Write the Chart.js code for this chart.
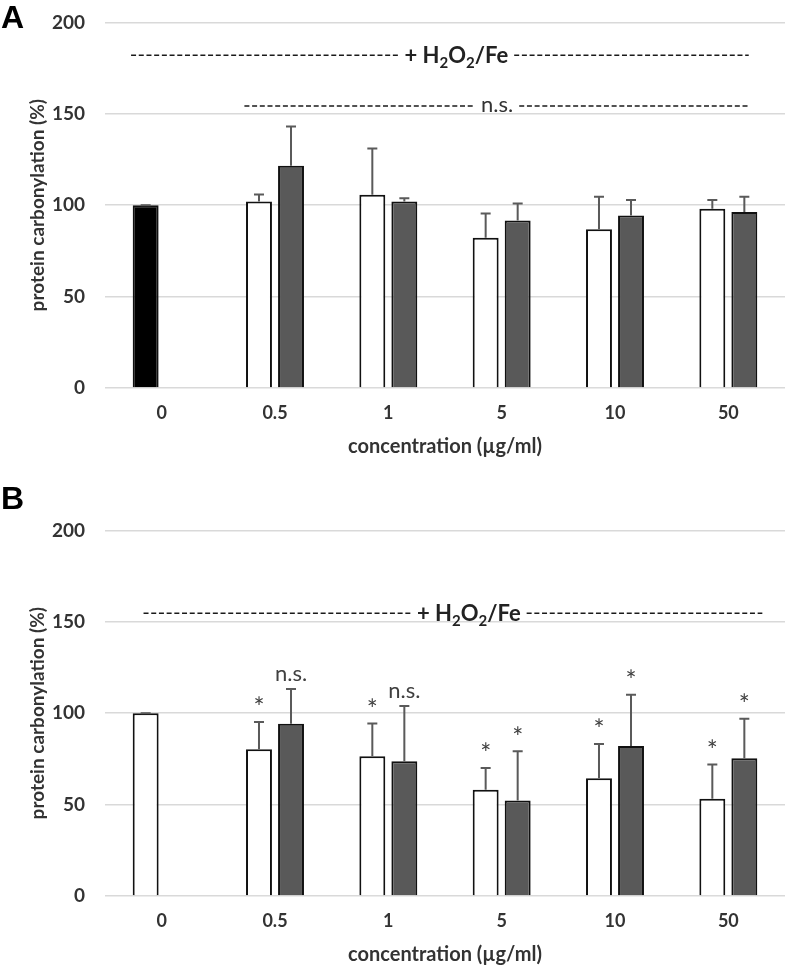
<!DOCTYPE html>
<html>
<head>
<meta charset="utf-8">
<title>protein carbonylation</title>
<script src="https://cdn.jsdelivr.net/npm/chart.js@4.4.1/dist/chart.umd.min.js"></script>
<style>
  html, body { margin: 0; padding: 0; background: #fff; overflow: hidden; }
  #wrap { position: relative; width: 787px; height: 968px; overflow: hidden; }
  .panel { position: absolute; left: 0; width: 787px; height: 479px; }
  .tag { position: absolute; left: 1px; font: bold 32px "Liberation Sans", Arial, sans-serif; color: #000; }
</style>
</head>
<body>
<div id="wrap">
  <div class="panel" style="top:-9px"><canvas id="chartA" width="787" height="479"></canvas></div>
  <div class="panel" style="top:499px"><canvas id="chartB" width="787" height="479"></canvas></div>
  <div class="tag" style="top:-1px">A</div>
  <div class="tag" style="top:480px">B</div>
</div>

<script>
// categories and ticks
const categories = ['0', '0.5', '1', '5', '10', '50'];
const yTicks = [0, 50, 100, 150, 200];

// panel A
const whiteA = [100, 102, 105.7, 82.2, 86.8, 98];
const whiteSdA = [0, 3.9, 25.3, 13.2, 17.8, 4.8];
const grayA = [null, 121.6, 102, 91.6, 94.3, 96.3];
const graySdA = [null, 21.4, 1.8, 9.3, 8.5, 8.3];

// panel B
const whiteB = [100, 80.3, 76.5, 58.1, 64.4, 53.2];
const whiteSdB = [0, 14.9, 17.8, 11.9, 18.8, 18.7];
const grayB = [null, 94.2, 73.7, 52.3, 82.1, 75.4];
const graySdB = [null, 19, 30.2, 26.9, 28, 21.5];
const sigWhiteB = ['', '*', '*', '*', '*', '*'];
const sigGrayB = ['', 'n.s.', 'n.s.', '*', '*', '*'];

// dashed annotation lines: y in data units, x in category index units
const linesA = [
  { text: 'h2o2', y: 182, from: -0.27, to: 5.18, at: 2.6 },
  { text: 'n.s.', y: 154.3, from: 0.73, to: 5.19, at: 2.96 }
];
const linesB = [
  { text: 'h2o2', y: 154.7, from: -0.16, to: 5.3, at: 2.71 }
];

const FONT = 'Lato, "Open Sans", sans-serif';
const TEXT = '#333';

// error bars + significance marks
const errorBars = {
  id: 'errorBars',
  afterDatasetsDraw(chart) {
    const ctx = chart.ctx;
    const y = chart.scales.y;
    ctx.save();
    chart.data.datasets.forEach((ds, i) => {
      const meta = chart.getDatasetMeta(i);
      meta.data.forEach((bar, j) => {
        const v = ds.data[j];
        const sd = ds.sd[j];
        if (v == null || sd == null) return;
        const top = y.getPixelForValue(v + sd);
        ctx.strokeStyle = '#5a5a5a';
        ctx.lineWidth = 2;
        ctx.setLineDash([]);
        ctx.beginPath();
        ctx.moveTo(bar.x, bar.y);
        ctx.lineTo(bar.x, top);
        ctx.moveTo(bar.x - 5, top);
        ctx.lineTo(bar.x + 5, top);
        ctx.stroke();

        const mark = ds.marks ? ds.marks[j] : '';
        if (mark) {
          ctx.fillStyle = '#404040';
          ctx.textAlign = 'center';
          if (mark === '*') {
            ctx.font = '26px ' + FONT;
            ctx.textBaseline = 'middle';
            ctx.fillText(mark, bar.x, top - 13);
          } else {
            ctx.font = '22px ' + FONT;
            ctx.textBaseline = 'alphabetic';
            ctx.fillText(mark, bar.x, top - 8);
          }
        }
      });
    });
    ctx.restore();
  }
};

// draws "+ H2O2/Fe" with subscripts, returns width
function drawH2O2(ctx, cx, baseY, measureOnly) {
  const parts = [['+ H', 0], ['2', 1], ['O', 0], ['2', 1], ['/Fe', 0]];
  let w = 0;
  parts.forEach(p => {
    ctx.font = (p[1] ? 'bold 15px ' : 'bold 22px ') + FONT;
    w += ctx.measureText(p[0]).width;
  });
  if (measureOnly) return w;
  let x = cx - w / 2;
  ctx.fillStyle = '#222';
  ctx.textAlign = 'left';
  ctx.textBaseline = 'alphabetic';
  parts.forEach(p => {
    ctx.font = (p[1] ? 'bold 15px ' : 'bold 22px ') + FONT;
    ctx.fillText(p[0], x, baseY + (p[1] ? 5 : 0));
    x += ctx.measureText(p[0]).width;
  });
  return w;
}

const dashedLines = {
  id: 'dashedLines',
  afterDraw(chart, args, opts) {
    const ctx = chart.ctx;
    const xs = chart.scales.x, ys = chart.scales.y;
    ctx.save();
    opts.lines.forEach(l => {
      const yy = ys.getPixelForValue(l.y);
      const x0 = xs.getPixelForValue(l.from);
      const x1 = xs.getPixelForValue(l.to);
      const cx = xs.getPixelForValue(l.at);
      let w;
      if (l.text === 'h2o2') {
        w = drawH2O2(ctx, cx, yy, true);
        drawH2O2(ctx, cx, yy + 8, false);
      } else {
        ctx.font = '22px ' + FONT;
        w = ctx.measureText(l.text).width;
        ctx.fillStyle = '#333';
        ctx.textAlign = 'center';
        ctx.textBaseline = 'alphabetic';
        ctx.fillText(l.text, cx, yy + 6);
      }
      ctx.strokeStyle = '#1a1a1a';
      ctx.lineWidth = 1.6;
      ctx.setLineDash([5, 2.7]);
      ctx.beginPath();
      ctx.moveTo(x0, yy);
      ctx.lineTo(cx - w / 2 - 6, yy);
      ctx.moveTo(cx + w / 2 + 6, yy);
      ctx.lineTo(x1, yy);
      ctx.stroke();
    });
    ctx.restore();
  }
};

function makePanel(id, white, whiteSd, gray, graySd, firstColor, marksWhite, marksGray, lines) {
  new Chart(document.getElementById(id), {
    type: 'bar',
    data: {
      labels: categories,
      datasets: [
        {
          data: white,
          sd: whiteSd,
          marks: marksWhite,
          backgroundColor: c => (c.dataIndex === 0 ? firstColor : '#ffffff'),
          borderColor: '#111',
          borderWidth: 2
        },
        {
          data: gray,
          sd: graySd,
          marks: marksGray,
          backgroundColor: '#595959',
          borderColor: '#111',
          borderWidth: 2
        }
      ]
    },
    options: {
      responsive: false,
      animation: false,
      layout: { padding: { top: 16, right: 2, bottom: 0, left: 0 } },
      datasets: { bar: { categoryPercentage: 0.565, barPercentage: 0.81 } },
      plugins: {
        legend: { display: false },
        tooltip: { enabled: false },
        dashedLines: { lines: lines }
      },
      scales: {
        x: {
          afterFit: s => { s.height = 82; },
          grid: { display: false, drawTicks: false },
          border: { display: false },
          ticks: { padding: 14, maxRotation: 0, color: TEXT, font: { family: FONT, size: 18, weight: 'bold' } },
          title: {
            display: true,
            text: 'concentration (µg/ml)',
            color: TEXT,
            padding: { top: 0, bottom: 11 },
            font: { family: FONT, size: 20, weight: 'bold' }
          }
        },
        y: {
          min: 0,
          max: 200,
          afterBuildTicks: s => { s.ticks = yTicks.map(v => ({ value: v })); },
          afterFit: s => { s.width = 105; },
          grid: { color: '#d9d9d9', lineWidth: 1.5, drawTicks: false },
          border: { display: false },
          ticks: { padding: 20, color: TEXT, font: { family: FONT, size: 19, weight: 'bold' } },
          title: {
            display: true,
            text: 'protein carbonylation (%)',
            color: TEXT,
            padding: { top: 26, bottom: 0 },
            font: { family: FONT, size: 19, weight: 'bold' }
          }
        }
      }
    },
    plugins: [errorBars, dashedLines]
  });
}

makePanel('chartA', whiteA, whiteSdA, grayA, graySdA, '#000000', null, null, linesA);
makePanel('chartB', whiteB, whiteSdB, grayB, graySdB, '#ffffff', sigWhiteB, sigGrayB, linesB);
</script>
</body>
</html>
